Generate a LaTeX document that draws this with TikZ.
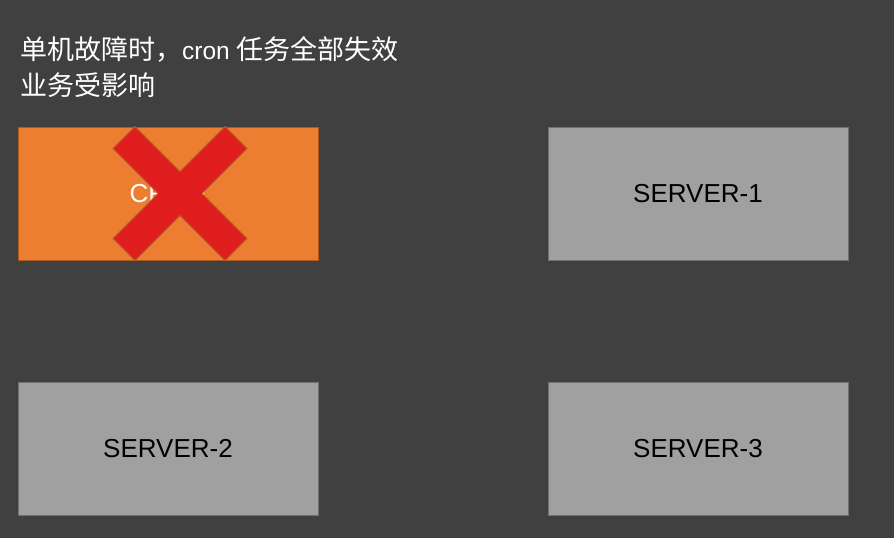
\documentclass[tikz,border=0pt]{standalone}
\usepackage{fontspec}
\setmainfont{Liberation Sans}
\newfontfamily\cjk{Noto Sans CJK SC}
\usetikzlibrary{positioning}
\definecolor{bggray}{HTML}{404040}
\definecolor{cronorange}{HTML}{ED7D31}
\definecolor{cronedge}{HTML}{AE5A21}
\definecolor{servergray}{HTML}{A0A0A0}
\definecolor{serveredge}{HTML}{707070}
\definecolor{crossred}{HTML}{E01E1E}
\definecolor{crossedge}{HTML}{B5602A}
\begin{document}
\begin{tikzpicture}[x=1pt,y=-1pt,
    box/.style={rectangle,minimum width=300pt,minimum height=133pt,
      inner sep=0pt,outer sep=0pt,line width=0.8pt,
      font=\fontsize{26}{31}\selectfont},
    server/.style={box,fill=servergray,draw=serveredge,text=black},
    cronbox/.style={box,fill=cronorange,draw=cronedge,text=white},
    title/.style={anchor=base west,inner sep=0pt,text=white,
      font=\cjk\fontsize{27}{36}\selectfont}]
  \fill[bggray] (0,0) rectangle (894,538);
  \useasboundingbox (0,0) rectangle (894,538);
  % caption
  \node[title] (line1) at (20,59)
    {单机故障时，{\rmfamily\fontsize{24.5}{36}\selectfont cron }任务全部失效};
  \node[title] (line2) at (20,95) {业务受影响};
  % machines
  \node[cronbox] (cron) at (168,193.5) {CRON};
  \node[server,right=230pt of cron] (s1) {SERVER-1};
  \node[server,below=122pt of cron] (s2) {SERVER-2};
  \node[server,below=122pt of s1] (s3) {SERVER-3};
  % cross over the failed machine
  \begin{scope}[shift={(cron.center)},xshift=12pt]
    \filldraw[fill=crossred,draw=crossedge,line width=0.8pt]
      (-67,-45) -- (-45,-67) -- (0,-22) -- (45,-67) -- (67,-45) -- (22,0)
      -- (67,45) -- (45,67) -- (0,22) -- (-45,67) -- (-67,45) -- (-22,0)
      -- cycle;
  \end{scope}
\end{tikzpicture}
\end{document}
